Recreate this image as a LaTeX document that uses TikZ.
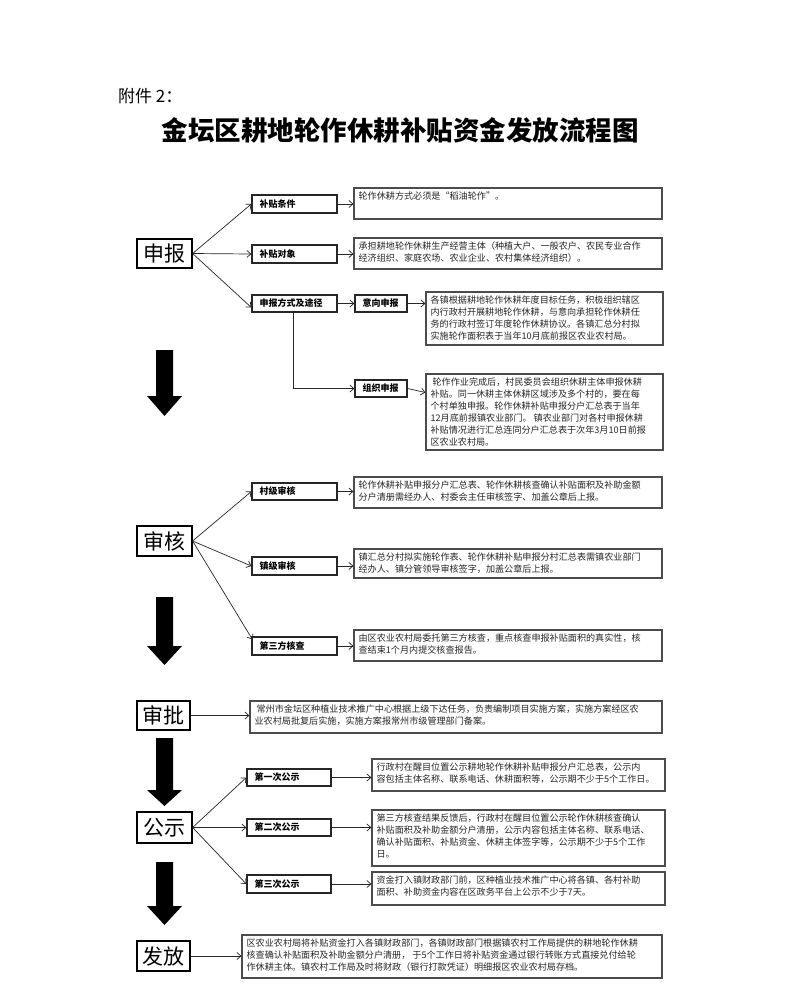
\documentclass[tikz,border=0pt]{standalone}
\usepackage{fontspec}
\setmainfont{Noto Sans CJK SC}
\usetikzlibrary{arrows.meta,fit}
\tikzset{
 x=1pt,y=-1pt,
 conn/.style={draw=black!85, line width=0.7pt, -{Straight Barb[length=4pt,width=7pt]}},
 mainbox/.style={draw=black, line width=1.2pt, inner sep=0},
 maintxt/.style={inner sep=0, font=\fontsize{21}{24}\selectfont},
 labbox/.style={draw=black!85, line width=1.3pt, inner sep=0},
 txtbox/.style={draw=black!70, line width=1.2pt, inner sep=0},
 txt/.style={anchor=north west, align=left, inner sep=0, font=\fontsize{9.1}{12}\selectfont, text=black!85},
 labtxt/.style={anchor=west, inner sep=0, font=\fontsize{9}{11}\selectfont\bfseries},
}
\newcommand\mainb[4]{\node[mainbox, fit={(#2) (#3)}] (#1) {};
 \node[maintxt] (#1txt) at (#1.center) {#4};}
\newcommand\labb[4]{\node[labbox, fit={(#2) (#3)}] (#1) {};
 \node[labtxt] (#1txt) at ([xshift=8]#1.west) {#4};}
\newcommand\txtb[4]{\node[txtbox, fit={(#2) (#3)}] (#1) {};
 \node[txt] (#1txt) at ([shift={(5,4)}]#1.north west) {#4};}
\newcommand\bigarr[4]{\fill[black] (156,#2) -- (173,#2) -- (173,#3) -- (182,#3) -- (164.5,#4) -- (147,#3) -- (156,#3) -- cycle;
 \coordinate (#1) at (164.5,#4);}
\begin{document}
\begin{tikzpicture}
\useasboundingbox[fill=white] (0,0) rectangle (800,985);
% titles
\node[anchor=west, inner sep=0, font=\fontsize{17}{20}\selectfont] (att) at (118,96) {附件 2：};
\node[inner sep=0, font=\fontsize{26.5}{30}\selectfont\bfseries] (title) at (400,130) {金坛区耕地轮作休耕补贴资金发放流程图};
% section 1
\mainb{sb}{137,239}{192,268}{申报}
\labb{c1}{252,195}{337,213}{补贴条件}
\txtb{t1}{354,188}{662,219}{轮作休耕方式必须是“稻油轮作”。}
\labb{c2}{252,245}{337,263}{补贴对象}
\txtb{t2}{354,238}{662,269}{承担耕地轮作休耕生产经营主体（种植大户、一般农户、农民专业合作\\经济组织、家庭农场、农业企业、农村集体经济组织）。}
\labb{c3}{252,295}{337,312}{申报方式及途径}
\labb{d1}{355,295}{407,312}{意向申报}
\txtb{t3}{426,292}{663,345}{各镇根据耕地轮作休耕年度目标任务，积极组织辖区\\内行政村开展耕地轮作休耕，与意向承担轮作休耕任\\务的行政村签订年度轮作休耕协议。各镇汇总分村拟\\实施轮作面积表于当年10月底前报区农业农村局。}
\labb{d2}{355,380}{407,397}{组织申报}
\txtb{t4}{426,374}{663,450}{\ 轮作作业完成后，村民委员会组织休耕主体申报休耕\\补贴。同一休耕主体休耕区域涉及多个村的，要在每\\个村单独申报。轮作休耕补贴申报分户汇总表于当年\\12月底前报镇农业部门。 镇农业部门对各村申报休耕\\补贴情况进行汇总连同分户汇总表于次年3月10日前报\\区农业农村局。}
\draw[conn] (sb.east) -- (c1.west);
\draw[conn] (sb.east) -- (c2.west);
\draw[conn] (sb.east) -- ([yshift=-4]c3.west);
\draw[conn] (c1.east) -- (t1.west |- c1.east);
\draw[conn] (c2.east) -- (t2.west |- c2.east);
\draw[conn] (c3.east) -- (d1.west);
\draw[conn] (d1.east) -- (t3.west |- d1.east);
\coordinate (bend) at (293,388.5);
\draw[conn] (c3.south -| bend) -- (bend) -- (d2.west);
\draw[conn] (d2.east) -- ([yshift=-4]t4.west |- d2.east);
\bigarr{a1}{350}{396}{416}
% section 2
\mainb{sh}{137,526}{192,556}{审核}
\labb{e1}{252,483}{337,500}{村级审核}
\txtb{t5}{354,477}{662,508}{轮作休耕补贴申报分户汇总表、轮作休耕核查确认补贴面积及补助金额\\分户清册需经办人、村委会主任审核签字、加盖公章后上报。}
\labb{e2}{252,557}{337,575}{镇级审核}
\txtb{t6}{354,549}{662,578}{镇汇总分村拟实施轮作表、轮作休耕补贴申报分村汇总表需镇农业部门\\经办人、镇分管领导审核签字，加盖公章后上报。}
\labb{e3}{252,637}{337,655}{第三方核查}
\txtb{t7}{354,630}{662,661}{由区农业农村局委托第三方核查，重点核查申报补贴面积的真实性，核\\查结束1个月内提交核查报告。}
\draw[conn] (sh.east) -- (e1.west);
\draw[conn] (sh.east) -- (e2.west);
\draw[conn] (sh.east) -- ([shift={(1,3)}]e3.north west);
\draw[conn] (e1.east) -- (t5.west |- e1.east);
\draw[conn] (e2.east) -- (t6.west |- e2.east);
\draw[conn] (e3.east) -- (t7.west |- e3.east);
\bigarr{a2}{597}{646}{665}
% section 3
\mainb{sp}{137,701}{190,730}{审批}
\txtb{t8}{250,701}{662,733}{\ 常州市金坛区种植业技术推广中心根据上级下达任务，负责编制项目实施方案，实施方案经区农\\业农村局批复后实施，实施方案报常州市级管理部门备案。}
\draw[conn] (sp.east) -- (t8.west |- sp.east);
\bigarr{a3}{738}{790}{806}
% section 4
\mainb{sg}{137,812}{192,843}{公示}
\labb{f1}{247,769}{331,786}{第一次公示}
\txtb{t9}{372,759}{665,791}{行政村在醒目位置公示耕地轮作休耕补贴申报分户汇总表，公示内\\容包括主体名称、联系电话、休耕面积等，公示期不少于5个工作日。}
\labb{f2}{247,819}{331,836}{第二次公示}
\txtb{t10}{372,810}{665,866}{第三方核查结果反馈后，行政村在醒目位置公示轮作休耕核查确认\\补贴面积及补助金额分户清册，公示内容包括主体名称、联系电话、\\确认补贴面积、补贴资金、休耕主体签字等，公示期不少于5个工作\\日。}
\labb{f3}{247,875}{331,893}{第三次公示}
\txtb{t11}{372,872}{665,905}{资金打入镇财政部门前，区种植业技术推广中心将各镇、各村补助\\面积、补助资金内容在区政务平台上公示不少于7天。}
\draw[conn] (sg.east) -- (f1.west);
\draw[conn] (sg.east) -- (f2.west);
\draw[conn] (sg.east) -- (f3.west);
\draw[conn] (f1.east) -- (t9.west |- f1.east);
\draw[conn] (f2.east) -- (t10.west |- f2.east);
\draw[conn] (f3.east) -- (t11.west |- f3.east);
\bigarr{a4}{862}{906}{925}
% section 5
\mainb{sf}{137,941}{190,971}{发放}
\txtb{t12}{242,935}{662,978}{区农业农村局将补贴资金打入各镇财政部门，各镇财政部门根据镇农村工作局提供的耕地轮作休耕\\核查确认补贴面积及补助金额分户清册， 于5个工作日将补贴资金通过银行转账方式直接兑付给轮\\作休耕主体。镇农村工作局及时将财政（银行打款凭证）明细报区农业农村局存档。}
\draw[conn] (sf.east) -- (t12.west |- sf.east);
\end{tikzpicture}
\end{document}
